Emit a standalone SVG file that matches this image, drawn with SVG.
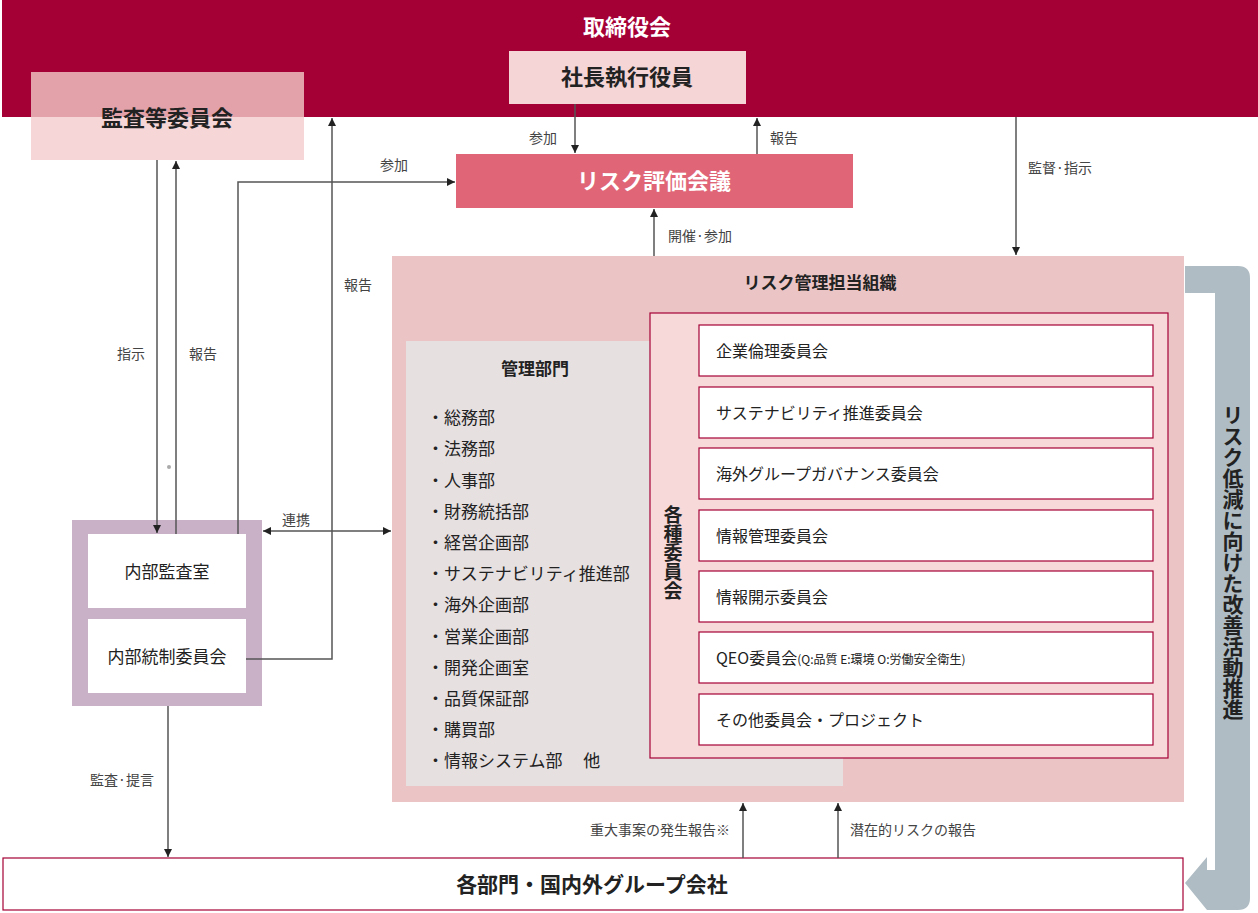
<svg xmlns="http://www.w3.org/2000/svg" width="1258" height="913" viewBox="0 0 1258 913">
<style>
text{font-family:"Noto Sans CJK JP","Noto Sans",sans-serif;fill:#222}
.b{font-weight:bold}
.lbl{font-size:14px;fill:#444}
.it{font-size:17px}
.cm{font-size:16px}
.ln{stroke:#555;stroke-width:1.5;fill:none}
.cbox{fill:#fff;stroke:#a50036;stroke-width:1.2}
</style>
<defs>
<marker id="ah" viewBox="0 0 10 10" refX="10" refY="5" markerWidth="8" markerHeight="8" orient="auto-start-reverse" markerUnits="userSpaceOnUse"><path d="M0,0L10,5L0,10Z" fill="#222"/></marker>
</defs>
<g id="board"><rect x="2" y="0" width="1256" height="117" fill="#a50036"/><text x="627" y="35" text-anchor="middle" font-size="22" class="b" style="fill:#fff">取締役会</text></g>
<g id="audit-committee"><rect x="31" y="72" width="273" height="45" fill="#e3a2aa"/><rect x="31" y="117" width="273" height="43" fill="#f7d6d7"/><text x="167" y="126" text-anchor="middle" font-size="22" class="b">監査等委員会</text></g>
<g id="president"><rect x="509" y="51" width="237" height="53" fill="#f5d5d6"/><text x="627" y="85" text-anchor="middle" font-size="22" class="b">社長執行役員</text></g>
<g id="risk-eval"><rect x="456" y="154" width="397" height="54" fill="#e06677"/><text x="654" y="189" text-anchor="middle" font-size="22" class="b" style="fill:#fff">リスク評価会議</text></g>
<g id="risk-org"><rect x="392" y="256" width="792" height="546" fill="#ebc5c5"/><text x="820" y="289" text-anchor="middle" font-size="17" class="b">リスク管理担当組織</text></g>
<g id="admin"><rect x="406" y="341" width="437" height="445" fill="#e6e0e1"/><text x="535" y="375" text-anchor="middle" font-size="17" class="b">管理部門</text>
<g class="it"><text x="427" y="424">・総務部</text><text x="427" y="455">・法務部</text><text x="427" y="487">・人事部</text><text x="427" y="518">・財務統括部</text><text x="427" y="549">・経営企画部</text><text x="427" y="580">・サステナビリティ推進部</text><text x="427" y="611">・海外企画部</text><text x="427" y="643">・営業企画部</text><text x="427" y="674">・開発企画室</text><text x="427" y="705">・品質保証部</text><text x="427" y="736">・購買部</text><text x="427" y="767">・情報システム部　 他</text></g></g>
<g id="committees"><rect x="650" y="313" width="518" height="445" fill="#f7d9da" stroke="#a50036" stroke-width="1.2"/><text x="673" y="505" font-size="19" class="b" style="writing-mode:vertical-rl" text-anchor="start">各種委員会</text>
<rect class="cbox" x="699" y="325" width="454" height="51"/><text class="cm" x="716" y="357">企業倫理委員会</text>
<rect class="cbox" x="699" y="387" width="454" height="51"/><text class="cm" x="716" y="419">サステナビリティ推進委員会</text>
<rect class="cbox" x="699" y="448" width="454" height="51"/><text class="cm" x="716" y="480">海外グループガバナンス委員会</text>
<rect class="cbox" x="699" y="510" width="454" height="51"/><text class="cm" x="716" y="542">情報管理委員会</text>
<rect class="cbox" x="699" y="571" width="454" height="51"/><text class="cm" x="716" y="603">情報開示委員会</text>
<rect class="cbox" x="699" y="632" width="454" height="51"/><text class="cm" x="716" y="664">QEO委員会<tspan font-size="12">(Q:品質 E:環境 O:労働安全衛生)</tspan></text>
<rect class="cbox" x="699" y="694" width="454" height="51"/><text class="cm" x="716" y="726">その他委員会・プロジェクト</text></g>
<g id="internal"><rect x="72" y="520" width="190" height="186" fill="#c9b1c8"/><rect x="88" y="534" width="158" height="74" fill="#fff"/><rect x="88" y="619" width="158" height="74" fill="#fff"/><text x="167" y="578" text-anchor="middle" font-size="17">内部監査室</text><text x="167" y="663" text-anchor="middle" font-size="17">内部統制委員会</text></g>
<g id="departments"><rect x="3" y="858" width="1180" height="52" fill="#fff" stroke="#a50036" stroke-width="1.2"/><text x="592" y="892" text-anchor="middle" font-size="21" class="b">各部門・国内外グループ会社</text></g>
<g id="improve"><path d="M1185,266H1238Q1250,266 1250,278V898Q1250,910 1238,910H1207L1185,883L1207,857V870H1215V293H1185Z" fill="#afbcc3"/><text x="1233" y="405" font-size="21" class="b" style="writing-mode:vertical-rl">リスク低減に向けた改善活動推進</text></g>
<g id="connectors">
<path class="ln" d="M575,104V153" marker-end="url(#ah)"/>
<path class="ln" d="M757,154V118" marker-end="url(#ah)"/>
<path class="ln" d="M1016,117V255" marker-end="url(#ah)"/>
<path class="ln" d="M654,256V209" marker-end="url(#ah)"/>
<path class="ln" d="M157,160V533" marker-end="url(#ah)"/>
<path class="ln" d="M176,534V161" marker-end="url(#ah)"/>
<path class="ln" d="M238,534V182H455" marker-end="url(#ah)"/>
<path class="ln" d="M246,659H332V118" marker-end="url(#ah)"/>
<path class="ln" d="M263,531H391" marker-start="url(#ah)" marker-end="url(#ah)"/>
<path class="ln" d="M168,706V857" marker-end="url(#ah)"/>
<path class="ln" d="M743,858V803" marker-end="url(#ah)"/>
<path class="ln" d="M838,858V803" marker-end="url(#ah)"/>
<text class="lbl" x="543" y="143" text-anchor="middle">参加</text>
<text class="lbl" x="784" y="143" text-anchor="middle">報告</text>
<text class="lbl" x="1060" y="173" text-anchor="middle">監督·指示</text>
<text class="lbl" x="700" y="241" text-anchor="middle">開催·参加</text>
<text class="lbl" x="131" y="359" text-anchor="middle">指示</text>
<text class="lbl" x="203" y="359" text-anchor="middle">報告</text>
<text class="lbl" x="394" y="170" text-anchor="middle">参加</text>
<text class="lbl" x="358" y="290" text-anchor="middle">報告</text>
<text class="lbl" x="296" y="525" text-anchor="middle">連携</text>
<text class="lbl" x="122" y="785" text-anchor="middle">監査·提言</text>
<text class="lbl" x="730" y="835" text-anchor="end">重大事案の発生報告※</text>
<text class="lbl" x="850" y="835">潜在的リスクの報告</text>
<circle cx="169" cy="467" r="2" fill="#aaa"/>
</g>
</svg>
